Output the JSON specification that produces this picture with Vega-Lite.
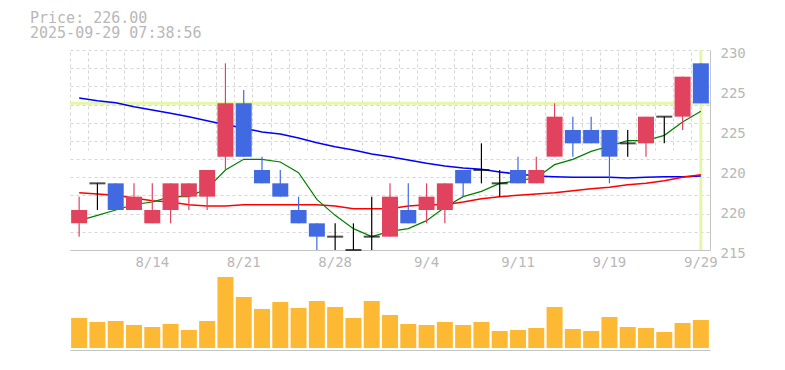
{
  "$schema": "https://vega.github.io/schema/vega-lite/v6.json",
  "width": 640,
  "height": 300,
  "autosize": {"type": "none"},
  "padding": {"left": 70, "top": 50, "right": 75, "bottom": 20},
  "background": "white",
  "title": {
    "text": "Price: 226.00",
    "subtitle": "2025-09-29 07:38:56",
    "anchor": "start",
    "frame": "group",
    "dx": -40,
    "offset": 5,
    "font": "DejaVu Sans Mono",
    "fontSize": 15,
    "fontWeight": "normal",
    "color": "#b8b8b8",
    "subtitleFont": "DejaVu Sans Mono",
    "subtitleFontSize": 15,
    "subtitleColor": "#b8b8b8",
    "subtitlePadding": 0
  },
  "config": {
    "view": {"stroke": null},
    "axis": {
      "labelFont": "DejaVu Sans Mono",
      "labelFontSize": 14,
      "labelColor": "#b8b8b8",
      "domainColor": "#c4c4c4",
      "gridColor": "#d4d4d4",
      "gridDash": [3, 3],
      "title": null
    }
  },
  "data": {
    "values": [
      {"date": "2025-08-07", "o": 217, "h": 219, "l": 216, "c": 218, "dir": "up", "vol": 30000, "ma5": 217.2, "ma25": 219.3, "ma75": 226.4},
      {"date": "2025-08-08", "o": 220, "h": 220, "l": 218, "c": 220, "dir": "flat", "vol": 26000, "ma5": 217.6, "ma25": 219.2, "ma75": 226.2},
      {"date": "2025-08-12", "o": 220, "h": 220, "l": 218, "c": 218, "dir": "down", "vol": 27000, "ma5": 218.0, "ma25": 219.1, "ma75": 226.05},
      {"date": "2025-08-13", "o": 218, "h": 220, "l": 218, "c": 219, "dir": "up", "vol": 23000, "ma5": 218.4, "ma25": 218.9, "ma75": 225.75},
      {"date": "2025-08-14", "o": 217, "h": 220, "l": 217, "c": 218, "dir": "up", "vol": 21000, "ma5": 218.6, "ma25": 218.7, "ma75": 225.5},
      {"date": "2025-08-15", "o": 218, "h": 220, "l": 217, "c": 220, "dir": "up", "vol": 24000, "ma5": 219.0, "ma25": 218.6, "ma75": 225.25},
      {"date": "2025-08-18", "o": 219, "h": 220, "l": 218, "c": 220, "dir": "up", "vol": 18000, "ma5": 219.0, "ma25": 218.4, "ma75": 225.0},
      {"date": "2025-08-19", "o": 219, "h": 221, "l": 218, "c": 221, "dir": "up", "vol": 27000, "ma5": 219.6, "ma25": 218.3, "ma75": 224.7},
      {"date": "2025-08-20", "o": 222, "h": 229, "l": 221, "c": 226, "dir": "up", "vol": 71000, "ma5": 221.0, "ma25": 218.3, "ma75": 224.4},
      {"date": "2025-08-21", "o": 226, "h": 227, "l": 222, "c": 222, "dir": "down", "vol": 51000, "ma5": 221.8, "ma25": 218.4, "ma75": 224.15},
      {"date": "2025-08-22", "o": 221, "h": 222, "l": 220, "c": 220, "dir": "down", "vol": 39000, "ma5": 221.8, "ma25": 218.4, "ma75": 223.85},
      {"date": "2025-08-25", "o": 220, "h": 221, "l": 219, "c": 219, "dir": "down", "vol": 46000, "ma5": 221.6, "ma25": 218.4, "ma75": 223.7},
      {"date": "2025-08-26", "o": 218, "h": 219, "l": 217, "c": 217, "dir": "down", "vol": 40000, "ma5": 220.8, "ma25": 218.4, "ma75": 223.4},
      {"date": "2025-08-27", "o": 217, "h": 217, "l": 215, "c": 216, "dir": "down", "vol": 47000, "ma5": 218.8, "ma25": 218.4, "ma75": 223.05},
      {"date": "2025-08-28", "o": 216, "h": 217, "l": 215, "c": 216, "dir": "flat", "vol": 41000, "ma5": 217.6, "ma25": 218.3, "ma75": 222.75},
      {"date": "2025-08-29", "o": 215, "h": 217, "l": 215, "c": 215, "dir": "flat", "vol": 30000, "ma5": 216.6, "ma25": 218.1, "ma75": 222.5},
      {"date": "2025-09-01", "o": 216, "h": 219, "l": 215, "c": 216, "dir": "flat", "vol": 47000, "ma5": 216.0, "ma25": 218.1, "ma75": 222.2},
      {"date": "2025-09-02", "o": 216, "h": 220, "l": 216, "c": 219, "dir": "up", "vol": 33000, "ma5": 216.4, "ma25": 218.1, "ma75": 222.0},
      {"date": "2025-09-03", "o": 218, "h": 220, "l": 217, "c": 217, "dir": "down", "vol": 24000, "ma5": 216.6, "ma25": 218.3, "ma75": 221.75},
      {"date": "2025-09-04", "o": 218, "h": 220, "l": 217, "c": 219, "dir": "up", "vol": 23000, "ma5": 217.2, "ma25": 218.4, "ma75": 221.5},
      {"date": "2025-09-05", "o": 218, "h": 220, "l": 217, "c": 220, "dir": "up", "vol": 26000, "ma5": 218.2, "ma25": 218.4, "ma75": 221.3},
      {"date": "2025-09-08", "o": 221, "h": 221, "l": 219, "c": 220, "dir": "down", "vol": 23000, "ma5": 219.0, "ma25": 218.6, "ma75": 221.15},
      {"date": "2025-09-09", "o": 221, "h": 223, "l": 220, "c": 221, "dir": "flat", "vol": 26000, "ma5": 219.4, "ma25": 218.85, "ma75": 221.05},
      {"date": "2025-09-10", "o": 220, "h": 221, "l": 219, "c": 220, "dir": "flat", "vol": 17000, "ma5": 220.0, "ma25": 219.0, "ma75": 220.85},
      {"date": "2025-09-11", "o": 221, "h": 222, "l": 220, "c": 220, "dir": "down", "vol": 18000, "ma5": 220.2, "ma25": 219.1, "ma75": 220.7},
      {"date": "2025-09-12", "o": 220, "h": 222, "l": 220, "c": 221, "dir": "up", "vol": 20000, "ma5": 220.4, "ma25": 219.2, "ma75": 220.55},
      {"date": "2025-09-16", "o": 222, "h": 226, "l": 222, "c": 225, "dir": "up", "vol": 41000, "ma5": 221.4, "ma25": 219.3, "ma75": 220.5},
      {"date": "2025-09-17", "o": 224, "h": 225, "l": 222, "c": 223, "dir": "down", "vol": 19000, "ma5": 221.8, "ma25": 219.45, "ma75": 220.45},
      {"date": "2025-09-18", "o": 224, "h": 225, "l": 223, "c": 223, "dir": "down", "vol": 17000, "ma5": 222.4, "ma25": 219.6, "ma75": 220.45},
      {"date": "2025-09-19", "o": 224, "h": 224, "l": 220, "c": 222, "dir": "down", "vol": 31000, "ma5": 222.8, "ma25": 219.7, "ma75": 220.45},
      {"date": "2025-09-22", "o": 223, "h": 224, "l": 222, "c": 223, "dir": "flat", "vol": 21000, "ma5": 223.2, "ma25": 219.9, "ma75": 220.4},
      {"date": "2025-09-24", "o": 223, "h": 225, "l": 222, "c": 225, "dir": "up", "vol": 20000, "ma5": 223.2, "ma25": 220.0, "ma75": 220.45},
      {"date": "2025-09-25", "o": 225, "h": 225, "l": 223, "c": 225, "dir": "flat", "vol": 16000, "ma5": 223.6, "ma25": 220.2, "ma75": 220.5},
      {"date": "2025-09-26", "o": 225, "h": 228, "l": 224, "c": 228, "dir": "up", "vol": 25000, "ma5": 224.6, "ma25": 220.45, "ma75": 220.5},
      {"date": "2025-09-29", "o": 229, "h": 229, "l": 226, "c": 226, "dir": "down", "vol": 28000, "ma5": 225.4, "ma25": 220.65, "ma75": 220.55}
    ]
  },
  "resolve": {"scale": {"y": "independent"}, "axis": {"x": "independent", "y": "independent"}},
  "layer": [
    {
      "mark": {"type": "bar", "width": 16, "color": "#fdb933"},
      "encoding": {
        "x": {
          "field": "date", "type": "ordinal",
          "scale": {"paddingInner": 0, "paddingOuter": 0},
          "axis": {"orient": "bottom", "bandPosition": 0, "grid": true, "labels": false, "ticks": false, "domain": true}
        },
        "y": {"field": "vol", "type": "quantitative", "scale": {"domain": [0, 98000], "range": [298, 200]}, "axis": null}
      }
    },
    {
      "data": {"values": [{}]},
      "mark": {"type": "rule", "color": "#e5f5aa", "strokeWidth": 3},
      "encoding": {
        "y": {
          "datum": 226, "type": "quantitative",
          "scale": {"domain": [215, 230], "range": [200, 0], "nice": false, "zero": false},
          "axis": {
            "orient": "left",
            "values": [215, 216.3636, 217.7273, 219.0909, 220.4545, 221.8182, 223.1818, 224.5455, 225.9091, 227.2727, 228.6364, 230],
            "grid": true, "labels": false, "ticks": false, "domain": false
          }
        }
      }
    },
    {
      "data": {"values": [{}]},
      "mark": {"type": "rule", "color": "#e5f5aa", "strokeWidth": 3},
      "encoding": {
        "x": {"datum": "2025-09-29", "type": "ordinal", "axis": null},
        "y": {"datum": 230, "type": "quantitative", "scale": {"domain": [215, 230], "range": [200, 0], "nice": false, "zero": false}, "axis": null},
        "y2": {"datum": 215}
      }
    },
    {
      "mark": {"type": "line", "color": "#0000ff", "strokeWidth": 1.5},
      "encoding": {
        "x": {"field": "date", "type": "ordinal", "axis": null},
        "y": {"field": "ma75", "type": "quantitative", "scale": {"domain": [215, 230], "range": [200, 0], "nice": false, "zero": false}, "axis": null}
      }
    },
    {
      "mark": {"type": "line", "color": "#ff0000", "strokeWidth": 1.5},
      "encoding": {
        "x": {"field": "date", "type": "ordinal", "axis": null},
        "y": {"field": "ma25", "type": "quantitative", "scale": {"domain": [215, 230], "range": [200, 0], "nice": false, "zero": false}, "axis": null}
      }
    },
    {
      "mark": {"type": "line", "color": "#008000", "strokeWidth": 1.2},
      "encoding": {
        "x": {"field": "date", "type": "ordinal", "axis": null},
        "y": {"field": "ma5", "type": "quantitative", "scale": {"domain": [215, 230], "range": [200, 0], "nice": false, "zero": false}, "axis": null}
      }
    },
    {
      "mark": {"type": "rule", "strokeWidth": 1.2},
      "encoding": {
        "x": {
          "field": "date", "type": "ordinal",
          "axis": {
            "orient": "bottom", "offset": -100, "grid": false, "ticks": false, "domain": true,
            "labelPadding": 5, "labelOverlap": false, "labelAngle": 0,
            "labelExpr": "indexof(['2025-08-14','2025-08-21','2025-08-28','2025-09-04','2025-09-11','2025-09-19','2025-09-29'], datum.value) >= 0 ? toNumber(substring(datum.value,5,7)) + '/' + toNumber(substring(datum.value,8,10)) : ''"
          }
        },
        "y": {
          "field": "l", "type": "quantitative",
          "scale": {"domain": [215, 230], "range": [200, 0], "nice": false, "zero": false},
          "axis": {
            "orient": "right",
            "values": [215, 218, 221, 224, 227, 230],
            "labelExpr": "format(round(datum.value / 5) * 5, 'd')",
            "grid": false, "ticks": false, "domain": true,
            "labelPadding": 10, "labelOffset": 3
          }
        },
        "y2": {"field": "h"},
        "color": {
          "field": "dir", "type": "nominal",
          "scale": {"domain": ["up", "down", "flat"], "range": ["#e1435f", "#4169e1", "#000000"]},
          "legend": null
        }
      }
    },
    {
      "transform": [{"filter": "datum.dir != 'flat'"}],
      "mark": {"type": "bar", "width": 16},
      "encoding": {
        "x": {"field": "date", "type": "ordinal", "axis": null},
        "y": {"field": "o", "type": "quantitative", "scale": {"domain": [215, 230], "range": [200, 0], "nice": false, "zero": false}, "axis": null},
        "y2": {"field": "c"},
        "color": {"field": "dir", "type": "nominal", "legend": null}
      }
    },
    {
      "transform": [{"filter": "datum.dir == 'flat'"}],
      "mark": {"type": "tick", "size": 16, "thickness": 2},
      "encoding": {
        "x": {"field": "date", "type": "ordinal", "axis": null},
        "y": {"field": "c", "type": "quantitative", "scale": {"domain": [215, 230], "range": [200, 0], "nice": false, "zero": false}, "axis": null},
        "color": {"field": "dir", "type": "nominal", "legend": null}
      }
    }
  ]
}
